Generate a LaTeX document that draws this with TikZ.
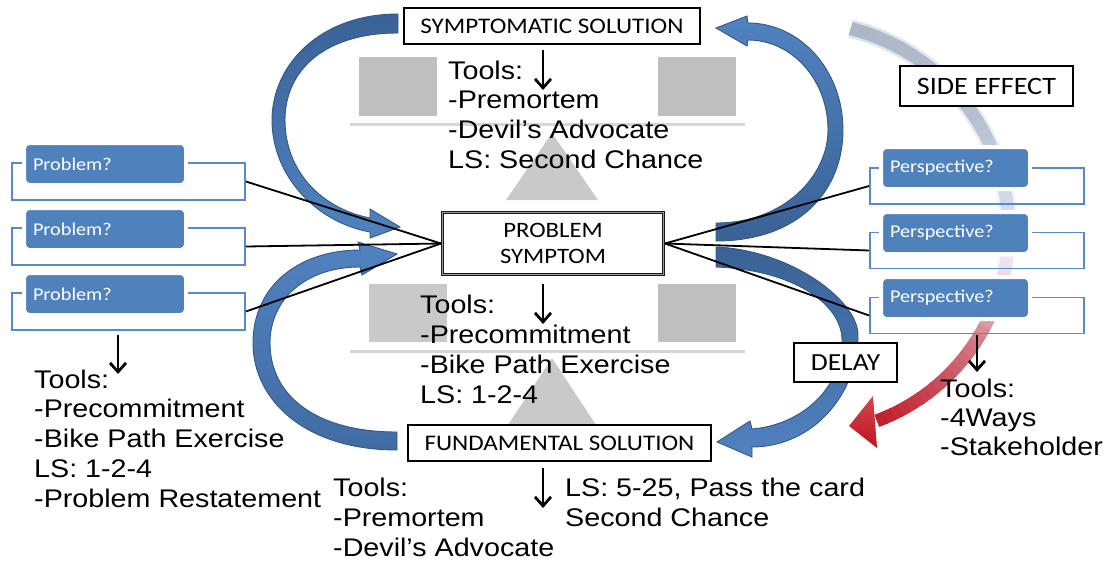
\documentclass[tikz,border=0pt]{standalone}
\usepackage{fontspec}
\setmainfont{Liberation Sans}[FakeStretch=1.125]
\newfontfamily\lblfont{Carlito}[FakeStretch=1.125]
\usetikzlibrary{arrows.meta}

\definecolor{boxblue}{RGB}{79,129,189}
\definecolor{framblue}{RGB}{86,138,204}
\definecolor{arrowlight}{RGB}{80,130,192}
\definecolor{arrowdark}{RGB}{58,98,150}
\definecolor{arrowedge}{RGB}{52,88,136}
\definecolor{panelgray}{RGB}{191,191,191}
\definecolor{trigray}{RGB}{201,201,201}
\definecolor{railgray}{RGB}{214,214,214}
% colour stops of the side-effect loop, from its grey start to its red end
\definecolor{glowA}{RGB}{214,226,242}
\definecolor{glowB}{RGB}{250,251,253}
\definecolor{sg0}{RGB}{172,182,196}
\definecolor{sg1}{RGB}{182,192,206}
\definecolor{sg2}{RGB}{208,220,237}
\definecolor{sg3}{RGB}{238,241,247}
\definecolor{sg4}{RGB}{232,198,204}
\definecolor{sg5}{RGB}{212,120,132}
\definecolor{sg6}{RGB}{200,72,84}
\definecolor{sg7}{RGB}{192,30,42}
\definecolor{redtop}{RGB}{212,70,82}
\definecolor{redbot}{RGB}{190,20,30}

% a piece of the side-effect loop drawn as short segments with a colour blend
% #1,#2 angles, #3 width, #4,#5 colours, #6 number of segments
\newcommand\arcband[6]{%
  \foreach \j in {1,...,#6}{%
    \pgfmathsetmacro\angA{#1+(#2-#1)*(\j-1)/#6}%
    \pgfmathsetmacro\angB{#1+(#2-#1)*\j/#6+0.35}%
    \pgfmathsetmacro\radA{212-12*(\angA+77)/145}%
    \pgfmathsetmacro\radB{212-12*(\angB+77)/145}%
    \pgfmathtruncatemacro\mixp{100*(\j-0.5)/#6}%
    \draw[line width=#3, color={#5!\mixp!#4}, shift={(803,235)}]
      (\angA:\radA) -- (\angB:\radB);
  }%
}

\begin{document}
\begin{tikzpicture}[x=1pt,y=-1pt,
  bodytext/.style={font=\fontsize{25.5}{30}\selectfont, anchor=base west, inner sep=0},
  labelbox/.style={draw=black, line width=2.4, fill=white, inner sep=0,
    font=\lblfont\fontsize{22.3}{26}\selectfont},
  askbox/.style={fill=boxblue, draw=white, line width=4, rounded corners=6,
    text=white, align=left, inner ysep=0, inner xsep=9, minimum height=42,
    font=\lblfont\fontsize{18}{21}\selectfont},
  frame/.style={draw=framblue, line width=1.8, inner sep=0},
  bluearrow/.style={draw=arrowedge, line width=0.9},
  connector/.style={line width=1.8},
  downarrow/.style={line width=2.8, -{Straight Barb[length=9pt,width=16pt]}},
  panel/.style={fill=panelgray}
]
\useasboundingbox (0,0) rectangle (1109,560);
\fill[white] (0,0) rectangle (1109,560);

% ---- side-effect loop (grey fading to red) ----
\arcband{-77}{10}{18}{glowA}{glowB}{20}
\arcband{-77}{-33.5}{13}{sg0}{sg1}{12}
\arcband{-33.5}{-8.85}{13}{sg1}{sg2}{8}
\arcband{-8.85}{4.2}{13}{sg2}{sg3}{6}
\arcband{4.2}{17.25}{13}{sg3}{sg4}{6}
\arcband{17.25}{31.75}{13}{sg4}{sg5}{6}
\arcband{31.75}{49.15}{13}{sg5}{sg6}{8}
\arcband{49.15}{68}{13}{sg6}{sg7}{8}
\path[top color=redtop, bottom color=redbot] (873,396) -- (849,426) -- (877,448) -- cycle;

% ---- balance scales behind the tool lists ----
\fill[panelgray] (359,57) rectangle (437,116);
\fill[panelgray] (658,57) rectangle (736,116);
\fill[panelgray!85!white] (369,284) rectangle (447,342);
\fill[panelgray] (658,284) rectangle (736,342);
\draw[railgray, line width=3] (350,124) -- (745,124);
\draw[railgray, line width=3] (350,351) -- (745,351);
\fill[trigray] (552,133) -- (598,200) -- (506,200) -- cycle;
\fill[trigray] (552,358) -- (598,428) -- (506,428) -- cycle;

% ---- the four loop arrows ----
\path[bluearrow, top color=arrowdark, bottom color=arrowlight]
  (398,14) .. controls (320,14) and (272,65) .. (272,120)
  .. controls (272,175) and (315,222) .. (370,232)
  -- (370,238) -- (400,227) -- (370,209) -- (370,218)
  .. controls (320,208) and (285,170) .. (285,120)
  .. controls (285,70) and (325,33) .. (398,33) -- cycle;
\path[bluearrow, top color=arrowlight, bottom color=arrowdark!70!arrowlight]
  (397,450) .. controls (305,450) and (253,400) .. (253,343)
  .. controls (253,285) and (300,250) .. (360,250)
  -- (358,242) -- (397,254) -- (362,275) -- (360,267)
  .. controls (305,267) and (270,300) .. (270,343)
  .. controls (270,395) and (315,432) .. (397,432) -- cycle;
\path[bluearrow, top color=arrowlight, bottom color=arrowdark]
  (716,241) .. controls (800,241) and (843,190) .. (843,130)
  .. controls (843,70) and (800,23) .. (748,23)
  -- (747,16) -- (716,28) -- (747,46) -- (748,40)
  .. controls (792,40) and (828,80) .. (828,130)
  .. controls (828,175) and (785,223) .. (716,223) -- cycle;
\path[bluearrow, top color=arrowdark, bottom color=arrowlight]
  (716,247) .. controls (790,250) and (858,300) .. (858,335)
  .. controls (858,395) and (812,447) .. (752,447)
  -- (752,457) -- (717,442) -- (750,421) -- (752,429)
  .. controls (800,425) and (842,390) .. (842,340)
  .. controls (842,305) and (795,270) .. (716,267) -- cycle;

% ---- tool lists ----
\foreach \t [count=\k from 0] in {Tools:, -Premortem, -Devil’s Advocate, LS: Second Chance}
  \node[bodytext] (symtools\k) at (448,{79+29.7*\k}) {\t};
\foreach \t [count=\k from 0] in {Tools:, -Precommitment, -Bike Path Exercise, LS: 1-2-4}
  \node[bodytext] (midtools\k) at (420,{313+30*\k}) {\t};
\foreach \t [count=\k from 0] in {Tools:, -Precommitment, -Bike Path Exercise, LS: 1-2-4, -Problem Restatement}
  \node[bodytext] (probtools\k) at (34,{388+29.8*\k}) {\t};
\foreach \t [count=\k from 0] in {Tools:, -Premortem, -Devil’s Advocate}
  \node[bodytext] (fundtools\k) at (333,{496+30*\k}) {\t};
\foreach \t [count=\k from 0] in {{LS: 5-25, Pass the card}, Second Chance}
  \node[bodytext] (fundls\k) at (565,{496+30*\k}) {\t};
\foreach \t [count=\k from 0] in {Tools:, -4Ways, -Stakeholder}
  \node[bodytext] (persptools\k) at (940,{397+29*\k}) {\t};

% ---- problem and perspective cards ----
\foreach \i/\y in {1/181.5, 2/246.5, 3/311.5}
  \node[frame, minimum width=233, minimum height=37] (probframe\i) at (128.5,\y) {};
\foreach \i/\y in {1/164, 2/229, 3/294}
  \node[askbox, text width=144] (probcard\i) at (105,\y) {Problem?};
\foreach \i/\y in {1/186, 2/250.5, 3/315.5}
  \node[frame, minimum width=214, minimum height=36] (perspframe\i) at (977,\y) {};
\foreach \i/\y in {1/168, 2/233, 3/298}
  \node[askbox, text width=131] (perspcard\i) at (955.5,\y) {Perspective?};

% ---- central boxes ----
\node[labelbox, minimum width=296, minimum height=36] (symsol) at (552,26) {SYMPTOMATIC SOLUTION};
\node[labelbox, minimum width=303, minimum height=36] (fundsol) at (559.5,443) {FUNDAMENTAL SOLUTION};
\node[labelbox, minimum width=173, minimum height=40, font=\lblfont\fontsize{25}{30}\selectfont] (sideeff) at (986.5,86) {SIDE EFFECT};
\node[labelbox, minimum width=103, minimum height=39, font=\lblfont\fontsize{24.5}{30}\selectfont] (delay) at (845.5,362.5) {DELAY};

% ---- connectors into and out of the symptom ----
\coordinate (symptomW) at (441,243.5);
\coordinate (symptomE) at (665,243.5);
\foreach \i in {1,2,3} {
  \draw[connector] (probframe\i.east) -- (symptomW);
  \draw[connector] (symptomE) -- (perspframe\i.west);
}
\node[labelbox, line width=0.9, draw=black!90, double=black!40, double distance=1.3,
  align=center, minimum width=221, minimum height=62,
  font=\lblfont\fontsize{22}{26}\selectfont] (symptom) at (553,243.5) {PROBLEM\\SYMPTOM};

% ---- short arrows down to the tool lists ----
\coordinate (symdownA) at (543,50);   \coordinate (symdownB) at (543,90);
\coordinate (middownA) at (543,284);  \coordinate (middownB) at (543,324);
\coordinate (funddownA) at (543,468); \coordinate (funddownB) at (543,508);
\coordinate (probdownA) at (118,335); \coordinate (probdownB) at (118,374);
\coordinate (perspdownA) at (977,335);\coordinate (perspdownB) at (977,372);
\draw[downarrow] (symdownA) -- (symdownB);
\draw[downarrow] (middownA) -- (middownB);
\draw[downarrow] (funddownA) -- (funddownB);
\draw[downarrow] (probdownA) -- (probdownB);
\draw[downarrow] (perspdownA) -- (perspdownB);
\end{tikzpicture}
\end{document}
